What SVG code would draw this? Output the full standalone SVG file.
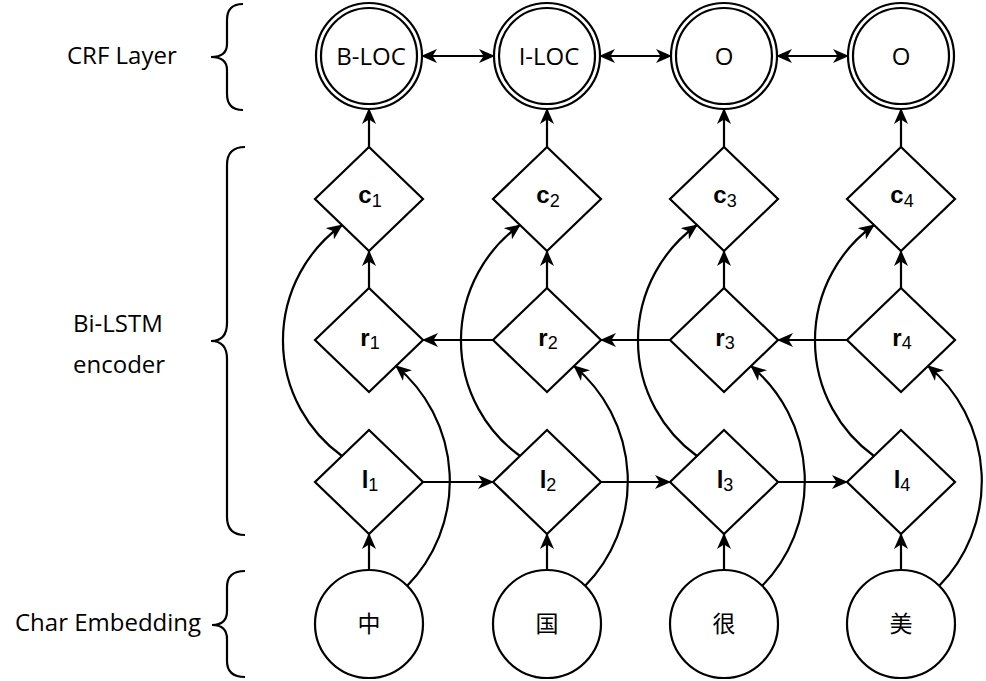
<svg xmlns="http://www.w3.org/2000/svg" width="986" height="681" viewBox="0 0 986 681">
<defs>
<style>
.ln{fill:none;stroke:#000;stroke-width:2.2}
.nd{fill:#fff;stroke:#000;stroke-width:2.2}
.lbl{font-family:"Open Sans","Noto Sans",sans-serif;font-size:24px;fill:#000}
.nl{font-family:"Open Sans","Noto Sans",sans-serif;font-size:24px;fill:#000;text-anchor:middle}
.cj{font-family:"Noto Sans CJK SC",sans-serif;font-size:23px;fill:#000;text-anchor:middle}
.dl{font-family:"Liberation Sans",Arial,sans-serif;font-size:24px;fill:#000;text-anchor:middle}
.dl .m{font-weight:bold}
.dl .s{font-size:18px}
.arr{marker-end:url(#ah)}
.dbl{marker-start:url(#ah);marker-end:url(#ah)}
</style>
<marker id="ah" viewBox="0 0 16 14" markerWidth="16" markerHeight="14" refX="15" refY="7" orient="auto-start-reverse" markerUnits="userSpaceOnUse">
<path d="M0,0 L16,7 L0,14 L4.5,7 Z" fill="#000"/>
</marker>
</defs>

<g id="labels">
<text class="lbl" x="67" y="64">CRF Layer</text>
<text class="lbl" x="73" y="332">Bi-LSTM</text>
<text class="lbl" x="73" y="373">encoder</text>
<text class="lbl" x="15" y="631">Char Embedding</text>
<path class="ln" d="M243,4 Q227,4 227,20 L227,44 Q227,57 211,57 Q227,57 227,70 L227,94 Q227,110 243,110"/>
<path class="ln" d="M245,147 Q227,147 227,165 L227,323 Q227,341 211,341 Q227,341 227,359 L227,517 Q227,535 245,535"/>
<path class="ln" d="M245,571 Q227,571 227,587 L227,611 Q227,625 212,625 Q227,625 227,639 L227,661 Q227,677 245,677"/>
</g>

<g id="connectors">
<path class="ln dbl" d="M422,56 L494,56"/>
<path class="ln dbl" d="M600,56 L671,56"/>
<path class="ln dbl" d="M777,56 L848,56"/>
<path class="ln arr" d="M369,147 L369,109"/>
<path class="ln arr" d="M547,147 L547,109"/>
<path class="ln arr" d="M724,147 L724,109"/>
<path class="ln arr" d="M901,147 L901,109"/>
<path class="ln arr" d="M369,288 L369,251"/>
<path class="ln arr" d="M547,288 L547,251"/>
<path class="ln arr" d="M724,288 L724,251"/>
<path class="ln arr" d="M901,288 L901,251"/>
<path class="ln arr" d="M369,570 L369,534"/>
<path class="ln arr" d="M547,570 L547,534"/>
<path class="ln arr" d="M724,570 L724,534"/>
<path class="ln arr" d="M901,570 L901,534"/>
<path class="ln arr" d="M423,482 L493,482"/>
<path class="ln arr" d="M601,482 L670,482"/>
<path class="ln arr" d="M778,482 L847,482"/>
<path class="ln arr" d="M493,340 L423,340"/>
<path class="ln arr" d="M670,340 L601,340"/>
<path class="ln arr" d="M847,340 L778,340"/>
<path class="ln arr" d="M342,456 A142.5,142.5 0 0 1 342,225"/>
<path class="ln arr" d="M520,456 A142.5,142.5 0 0 1 520,225"/>
<path class="ln arr" d="M697,456 A142.5,142.5 0 0 1 697,225"/>
<path class="ln arr" d="M874,456 A142.5,142.5 0 0 1 874,225"/>
<path class="ln arr" d="M407,586 A150,150 0 0 0 396,366"/>
<path class="ln arr" d="M585,586 A150,150 0 0 0 574,366"/>
<path class="ln arr" d="M762,586 A150,150 0 0 0 751,366"/>
<path class="ln arr" d="M939,586 A150,150 0 0 0 928,366"/>
</g>

<g id="crf1"><circle class="nd" cx="369" cy="56" r="53"/><circle class="ln" cx="369" cy="56" r="48"/><text class="nl" x="371" y="65">B-LOC</text></g>
<g id="crf2"><circle class="nd" cx="547" cy="56" r="53"/><circle class="ln" cx="547" cy="56" r="48"/><text class="nl" x="549" y="65">I-LOC</text></g>
<g id="crf3"><circle class="nd" cx="724" cy="56" r="53"/><circle class="ln" cx="724" cy="56" r="48"/><text class="nl" x="724" y="65">O</text></g>
<g id="crf4"><circle class="nd" cx="901" cy="56" r="53"/><circle class="ln" cx="901" cy="56" r="48"/><text class="nl" x="901" y="65">O</text></g>

<g id="c1"><path class="nd" d="M369,147 L423,199 L369,251 L315,199 Z"/><text class="dl" x="370" y="203"><tspan class="m">c</tspan><tspan class="s" dy="4">1</tspan></text></g>
<g id="c2"><path class="nd" d="M547,147 L601,199 L547,251 L493,199 Z"/><text class="dl" x="548" y="203"><tspan class="m">c</tspan><tspan class="s" dy="4">2</tspan></text></g>
<g id="c3"><path class="nd" d="M724,147 L778,199 L724,251 L670,199 Z"/><text class="dl" x="725" y="203"><tspan class="m">c</tspan><tspan class="s" dy="4">3</tspan></text></g>
<g id="c4"><path class="nd" d="M901,147 L955,199 L901,251 L847,199 Z"/><text class="dl" x="902" y="203"><tspan class="m">c</tspan><tspan class="s" dy="4">4</tspan></text></g>

<g id="r1"><path class="nd" d="M369,288 L423,340 L369,392 L315,340 Z"/><text class="dl" x="370" y="346"><tspan class="m">r</tspan><tspan class="s" dy="3">1</tspan></text></g>
<g id="r2"><path class="nd" d="M547,288 L601,340 L547,392 L493,340 Z"/><text class="dl" x="548" y="346"><tspan class="m">r</tspan><tspan class="s" dy="3">2</tspan></text></g>
<g id="r3"><path class="nd" d="M724,288 L778,340 L724,392 L670,340 Z"/><text class="dl" x="725" y="346"><tspan class="m">r</tspan><tspan class="s" dy="3">3</tspan></text></g>
<g id="r4"><path class="nd" d="M901,288 L955,340 L901,392 L847,340 Z"/><text class="dl" x="902" y="346"><tspan class="m">r</tspan><tspan class="s" dy="3">4</tspan></text></g>

<g id="l1"><path class="nd" d="M369,430 L423,482 L369,534 L315,482 Z"/><text class="dl" x="370" y="488"><tspan class="m">l</tspan><tspan class="s" dy="3">1</tspan></text></g>
<g id="l2"><path class="nd" d="M547,430 L601,482 L547,534 L493,482 Z"/><text class="dl" x="548" y="488"><tspan class="m">l</tspan><tspan class="s" dy="3">2</tspan></text></g>
<g id="l3"><path class="nd" d="M724,430 L778,482 L724,534 L670,482 Z"/><text class="dl" x="725" y="488"><tspan class="m">l</tspan><tspan class="s" dy="3">3</tspan></text></g>
<g id="l4"><path class="nd" d="M901,430 L955,482 L901,534 L847,482 Z"/><text class="dl" x="902" y="488"><tspan class="m">l</tspan><tspan class="s" dy="3">4</tspan></text></g>

<g id="e1"><circle class="nd" cx="369" cy="624" r="54"/><text class="cj" x="369" y="632">中</text></g>
<g id="e2"><circle class="nd" cx="547" cy="624" r="54"/><text class="cj" x="547" y="632">国</text></g>
<g id="e3"><circle class="nd" cx="724" cy="624" r="54"/><text class="cj" x="724" y="632">很</text></g>
<g id="e4"><circle class="nd" cx="901" cy="624" r="54"/><text class="cj" x="901" y="632">美</text></g>
</svg>
